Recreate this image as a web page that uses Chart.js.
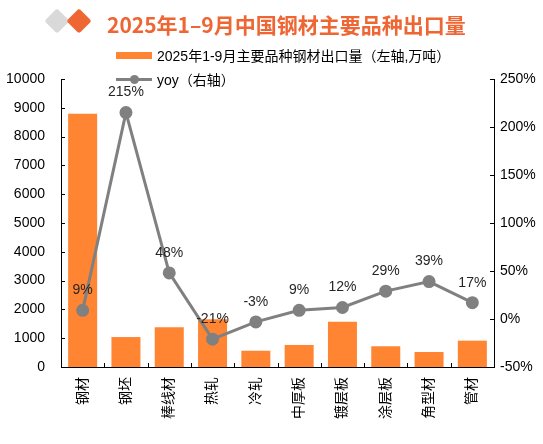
<!DOCTYPE html>
<html>
<head>
<meta charset="utf-8">
<script src="https://cdn.jsdelivr.net/npm/chart.js@4.4.1/dist/chart.umd.min.js"></script>
<style>
  body { margin: 0; background: #fff; }
  .wrap { position: relative; width: 543px; height: 444px; }
  .title {
    position: absolute; left: 107px; top: 8px;
    font: bold 21px "Noto Sans CJK SC", sans-serif; color: #EE6633; white-space: nowrap;
    line-height: 32px;
  }
  .dia { position: absolute; width: 18px; height: 18px; border-radius: 3px; transform: rotate(45deg); }
  .legend { position: absolute; left: 116px; font: 14px "Liberation Sans", "Noto Sans CJK SC", sans-serif; color: #000; white-space: nowrap; }
  .legend .row { display: flex; align-items: center; height: 16px; }
  .legend .sw { width: 36px; height: 7px; background: #FF8533; margin-right: 5px; }
  .legend .ln { position: relative; width: 36px; height: 3px; background: #808080; margin-right: 5px; }
  .legend .ln i { position: absolute; left: 14px; top: -3px; width: 9px; height: 9px; border-radius: 50%; background: #808080; }
</style>
</head>
<body>
<div class="wrap">
  <canvas id="c" width="543" height="444"></canvas>
  <div class="dia" style="left:48px; top:12px; background:#D9D9D9;"></div>
  <div class="dia" style="left:70px; top:12px; background:#EE6633;"></div>
  <div class="title">2025年1–9月中国钢材主要品种出口量</div>
  <div class="legend" style="top:47px;"><div class="row"><span class="sw"></span>2025年1-9月主要品种钢材出口量（左轴,万吨）</div></div>
  <div class="legend" style="top:71px;"><div class="row"><span class="ln"><i></i></span>yoy（右轴）</div></div>
</div>
<script>
// 品种
const categories = ['钢材', '钢坯', '棒线材', '热轧', '冷轧', '中厚板', '镀层板', '涂层板', '角型材', '管材'];
// 出口量（万吨）
const exportVolume = [8790, 1040, 1380, 1655, 565, 765, 1575, 720, 520, 915];
// 同比 %
const yoy = [9, 215, 48, -21, -3, 9, 12, 29, 39, 17];

const tickFont = { family: '"Liberation Sans", "Noto Sans CJK SC", sans-serif', size: 14 };

// small tick marks drawn inside the plot, like the original
const insideTicks = {
  id: 'insideTicks',
  afterDraw(chart) {
    const ctx = chart.ctx;
    const a = chart.chartArea;
    const x = chart.scales.x, y = chart.scales.y, y1 = chart.scales.y1;
    ctx.save();
    ctx.strokeStyle = '#000';
    ctx.lineWidth = 1;
    ctx.beginPath();
    y.ticks.forEach(t => {
      const p = Math.round(y.getPixelForValue(t.value)) + 0.5;
      ctx.moveTo(a.left, p); ctx.lineTo(a.left + 4, p);
    });
    y1.ticks.forEach(t => {
      const p = Math.round(y1.getPixelForValue(t.value)) + 0.5;
      ctx.moveTo(a.right, p); ctx.lineTo(a.right - 4, p);
    });
    for (let i = 1; i < categories.length; i++) {
      const p = Math.round((x.getPixelForValue(i - 1) + x.getPixelForValue(i)) / 2) + 0.5;
      ctx.moveTo(p, a.bottom); ctx.lineTo(p, a.bottom - 4);
    }
    ctx.stroke();
    ctx.restore();
  }
};

// percentage labels above the yoy points
const yoyLabels = {
  id: 'yoyLabels',
  afterDatasetsDraw(chart) {
    const ctx = chart.ctx;
    const meta = chart.getDatasetMeta(1);
    ctx.save();
    ctx.font = '14px "Liberation Sans", sans-serif';
    ctx.fillStyle = '#262626';
    ctx.textAlign = 'center';
    ctx.textBaseline = 'middle';
    meta.data.forEach((pt, i) => {
      ctx.fillText(yoy[i] + '%', pt.x, pt.y - 20);
    });
    ctx.restore();
  }
};

new Chart(document.getElementById('c'), {
  data: {
    labels: categories,
    datasets: [
      {
        type: 'bar',
        label: '2025年1-9月主要品种钢材出口量（左轴,万吨）',
        data: exportVolume,
        backgroundColor: '#FF8533',
        yAxisID: 'y',
        categoryPercentage: 1,
        barPercentage: 0.67,
        order: 1
      },
      {
        type: 'line',
        label: 'yoy（右轴）',
        data: yoy,
        borderColor: '#808080',
        backgroundColor: '#808080',
        borderWidth: 3,
        pointRadius: 5,
        pointHoverRadius: 5,
        yAxisID: 'y1',
        order: 0
      }
    ]
  },
  options: {
    responsive: false,
    animation: false,
    layout: { padding: { top: 79, bottom: 0, left: 0, right: 0 } },
    plugins: { legend: { display: false }, tooltip: { enabled: false } },
    scales: {
      x: {
        grid: { display: false, drawTicks: false },
        border: { display: true, color: '#000' },
        ticks: {
          color: '#000', font: tickFont, autoSkip: false,
          minRotation: 90, maxRotation: 90, padding: 10
        },
        afterFit(s) { s.height = 77; }
      },
      y: {
        position: 'left',
        min: 0, max: 10000,
        grid: { display: false, drawTicks: false },
        border: { display: true, color: '#000' },
        ticks: { stepSize: 1000, color: '#000', font: tickFont, padding: 16, callback: v => String(v) },
        afterFit(s) { s.width = 61; }
      },
      y1: {
        position: 'right',
        min: -50, max: 250,
        grid: { display: false, drawTicks: false },
        border: { display: true, color: '#000' },
        ticks: { stepSize: 50, color: '#000', font: tickFont, padding: 6, callback: v => v + '%' },
        afterFit(s) { s.width = 49; }
      }
    }
  },
  plugins: [insideTicks, yoyLabels]
});
</script>
</body>
</html>
